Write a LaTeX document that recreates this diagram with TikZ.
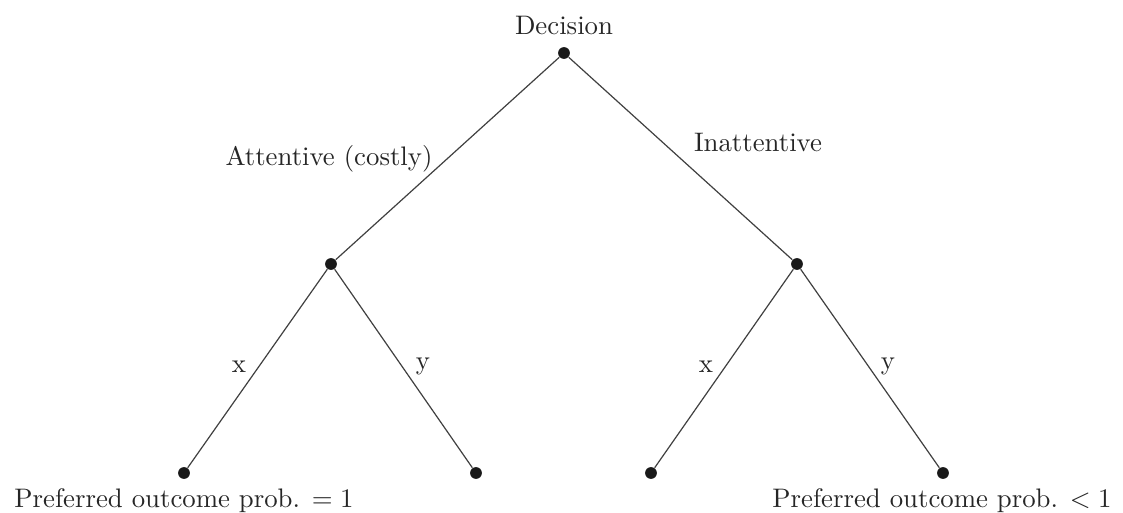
\documentclass[tikz,border=0pt]{standalone}
\begin{document}
\begin{tikzpicture}[x=0.3733pt,y=-0.3733pt,
  dotnode/.style={circle,fill=black!90,inner sep=0pt,minimum size=4.4pt},
  edge/.style={draw=black!75,line width=0.45pt},
  lbl/.style={inner sep=0pt,text=black!85}]
\useasboundingbox (0,0) rectangle (1123,513);
\node[dotnode] (r) at (564,53) {};
\node[dotnode] (a) at (331,264) {};
\node[dotnode] (b) at (797,264) {};
\node[dotnode] (a1) at (184,473) {};
\node[dotnode] (a2) at (476,473) {};
\node[dotnode] (b1) at (651,473) {};
\node[dotnode] (b2) at (943,473) {};
\draw[edge] (r) -- (a);
\draw[edge] (r) -- (b);
\draw[edge] (a) -- (a1);
\draw[edge] (a) -- (a2);
\draw[edge] (b) -- (b1);
\draw[edge] (b) -- (b2);
\node[lbl,anchor=base] (dec) at (564,35) {Decision};
\node[lbl,anchor=base] (att) at (329,166) {Attentive (costly)};
\node[lbl,anchor=base] (inatt) at (758,152) {Inattentive};
\node[lbl,anchor=base] (x1) at (239,373) {x};
\node[lbl,anchor=base] (y1) at (423,370) {y};
\node[lbl,anchor=base] (x2) at (706,373) {x};
\node[lbl,anchor=base] (y2) at (888,370) {y};
\node[lbl,anchor=base] (p1) at (184,507) {Preferred outcome prob. $=1$};
\node[lbl,anchor=base] (p2) at (942,507) {Preferred outcome prob. $<1$};
\end{tikzpicture}
\end{document}
